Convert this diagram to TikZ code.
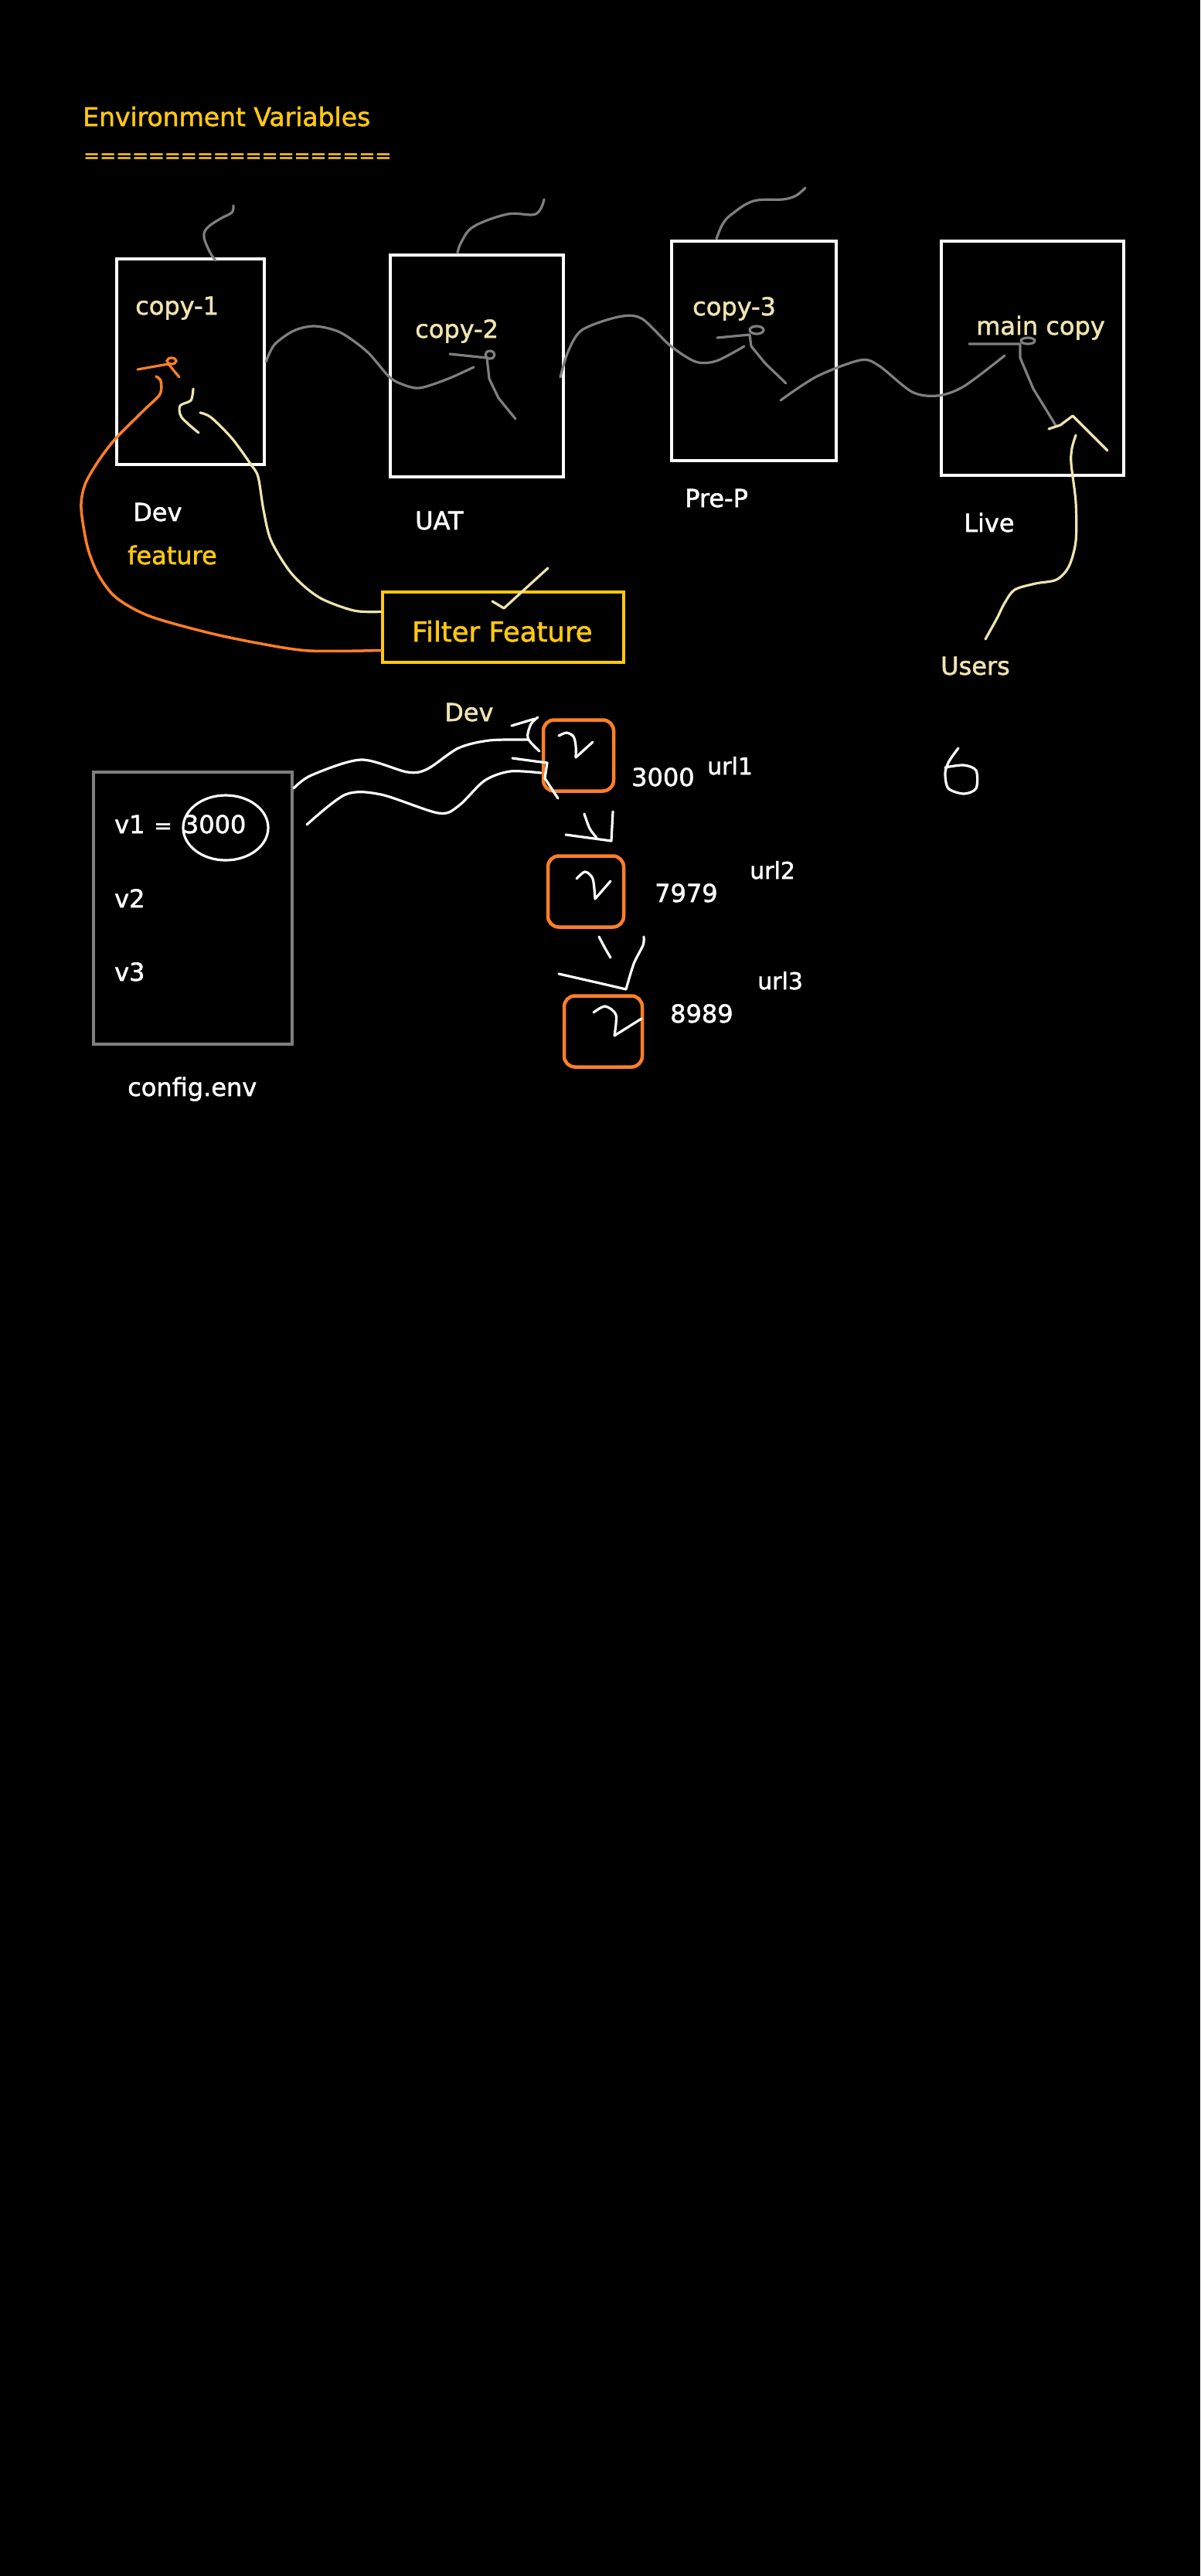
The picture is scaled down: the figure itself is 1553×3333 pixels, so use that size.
\documentclass[tikz,border=0pt]{standalone}
\usepackage{fontspec}
\setmainfont{DejaVu Sans}[FakeBold=1.6]
\definecolor{cream}{HTML}{EFE4B0}
\definecolor{gold}{HTML}{FFC90E}
\definecolor{tangerine}{HTML}{FF7F27}
\definecolor{pencil}{HTML}{7F7F7F}
\tikzset{
  envbox/.style={draw=white, line width=4.5pt, inner sep=0pt},
  urlbox/.style={draw=tangerine, line width=4.5pt, rounded corners=14pt, inner sep=0pt, minimum height=92pt},
  txt/.style={anchor=base west, inner sep=0pt, font=\fontsize{32}{38}\selectfont},
  wire/.style={pencil, line width=3.2pt, line cap=round, line join=round},
  ink/.style={white, line width=3.2pt, line cap=round, line join=round}
}

\begin{document}
\begin{tikzpicture}[x=1pt, y=-1pt]
  \fill[black] (0,0) rectangle (1553,3333);
  \useasboundingbox (0,0) rectangle (1553,3333);

  \node[txt, gold, font=\fontsize{33}{40}\selectfont] (title) at (107,163) {Environment Variables};
  \node[txt, gold, font=\fontsize{25}{30}\selectfont] (rule) at (108,210) {===================};

  \node[envbox, minimum width=191pt, minimum height=266pt] (copy1) at (246.5,468) {};
  \node[envbox, minimum width=224pt, minimum height=287pt] (copy2) at (617,473.5) {};
  \node[envbox, minimum width=213pt, minimum height=284pt] (copy3) at (975.5,454) {};
  \node[envbox, minimum width=236pt, minimum height=303pt] (main) at (1336,463.5) {};
  \node[txt, cream] (c1) at (175,407) {copy-1};
  \node[txt, cream] (c2) at (537,437) {copy-2};
  \node[txt, cream] (c3) at (896,408) {copy-3};
  \node[txt, cream] (mc) at (1263,433) {main copy};

  \node[txt, white] (dev) at (172,674) {Dev};
  \node[txt, gold] (feature) at (165,730) {feature};
  \node[txt, white] (uat) at (537,685) {UAT};
  \node[txt, white] (prep) at (886,656) {Pre-P};
  \node[txt, white] (live) at (1247,688) {Live};
  \node[txt, cream] (users) at (1217,873) {Users};
  \node[draw=gold, line width=4.5pt, minimum width=312pt, minimum height=91pt] (filter) at (651,811.5) {};
  \node[txt, gold, font=\fontsize{35.5}{42}\selectfont] (ff) at (533,830) {Filter Feature};

  \draw[wire] plot[smooth, tension=0.6] coordinates {(279,337) (272,327) (264,307) (268,295) (285,283) (300,275) (302,266)};
  \draw[wire] plot[smooth, tension=0.6] coordinates {(592,327) (597,313) (613,293) (657,277) (693,277) (704,258)};
  \draw[wire] plot[smooth, tension=0.6] coordinates {(927,309) (935,290) (947,277) (975,260) (1013,258) (1030,253) (1042,243)};

  \draw[wire] plot[smooth] coordinates {(copy1.east) (355,446) (380,428) (407,422) (440,430) (475,455) (503,487) (520,497) (543,502) (580,490) (613,475)};
  \draw[wire] (582,458) -- (630,463) -- (633,490) -- (645,515) -- (667,542);
  \draw[wire] (634,459) ellipse (6 and 5);
  \draw[wire] plot[smooth] coordinates {(725,488) (735,455) (753,427) (800,410) (830,412) (867,447) (900,468) (927,467) (963,448)};
  \draw[wire] (928,437) -- (970,433) -- (972,448) -- (990,470) -- (1017,496);
  \draw[wire] (979,427) ellipse (9 and 5);
  \draw[wire] plot[smooth] coordinates {(1010,518) (1057,487) (1113,466) (1137,473) (1180,507) (1213,512) (1247,500) (1300,460)};
  \draw[wire] (1254,445) -- (1320,445) -- (1320,463) -- (1337,503) -- (1367,552);
  \draw[wire] (1330,441) ellipse (9 and 4);

  \draw[tangerine, line width=3.5pt, line cap=round] plot[smooth] coordinates {([yshift=-30pt]filter.west) (400,842) (333,832) (267,818) (193,797) (150,773) (127,743) (113,707) (105,657) (110,627) (127,597) (150,567) (187,530) (207,510) (208,493) (202,487)};
  \draw[tangerine, line width=3.2pt, line cap=round] (178,478) -- (218,471) -- (232,488);
  \draw[tangerine, line width=3.2pt] (222,467) ellipse (6 and 4);
  \draw[cream, line width=3.2pt, line cap=round] plot[smooth] coordinates {([yshift=20pt]filter.west) (458,790) (413,773) (378,743) (351,700) (341,660) (334,617) (324,600) (300,567) (273,540) (259,534)};
  \draw[cream, line width=3.2pt, line cap=round] plot[smooth] coordinates {(250,503) (247,518) (233,525) (235,540) (257,560)};
  \draw[cream, line width=3.2pt, line cap=round, line join=round] (709,735) -- (652,787) -- (637,778);

  \draw[cream, line width=3.2pt, line cap=round] plot[smooth] coordinates {(1275,827) (1290,800) (1300,780) (1313,763) (1340,755) (1367,750) (1383,733) (1392,700) (1392,650) (1386,600) (1387,580) (1392,563)};
  \draw[cream, line width=3.2pt, line cap=round, line join=round] (1357,555) -- (1372,550) -- (1388,538) -- (1410,560) -- (1433,583);
  \draw[ink] plot[smooth] coordinates {(1240,968) (1228,985) (1223,1000) (1227,1020) (1247,1027) (1263,1020) (1263,997) (1247,990) (1223,993)};

  \node[txt, cream] (dev2) at (575,933) {Dev};
  \node[draw=pencil, line width=4pt, minimum width=257pt, minimum height=352pt, inner sep=0pt] (config) at (249.5,1175) {};
  \node[txt, white] (v1) at (148,1078) {v1\hspace{12pt}{\fontsize{28}{32}\selectfont=}\hspace{14pt}3000};
  \node[txt, white] (v2) at (148,1174) {v2};
  \node[txt, white] (v3) at (148,1269) {v3};
  \node[txt, white] (cfg) at (165,1418) {config.env};
  \draw[ink] (292,1071) ellipse (55 and 42);

  \node[urlbox, minimum width=91pt] (u1) at (748.5,977.5) {};
  \node[urlbox, minimum width=98pt] (u2) at (758,1153.5) {};
  \node[urlbox, minimum width=101pt] (u3) at (780.5,1334.5) {};
  \node[txt, white] (p1) at (817,1017) {3000};
  \node[txt, white, font=\fontsize{30}{36}\selectfont] (url1) at (915,1002) {url1};
  \node[txt, white] (p2) at (847,1167) {7979};
  \node[txt, white, font=\fontsize{30}{36}\selectfont] (url2) at (970,1137) {url2};
  \node[txt, white] (p3) at (867,1323) {8989};
  \node[txt, white, font=\fontsize{30}{36}\selectfont] (url3) at (980,1280) {url3};

  \draw[ink] plot[smooth] coordinates {(723,952) (733,948) (742,953) (745,965) (745,980)} -- (767,960);
  \draw[ink] plot[smooth] coordinates {(746,1137) (757,1128) (767,1137) (770,1163)} -- (790,1140);
  \draw[ink] plot[smooth] coordinates {(768,1310) (783,1302) (797,1313) (795,1340)} -- (830,1318);

  \draw[ink] plot[smooth] coordinates {([yshift=-23pt]config.north east) (403,1003) (467,983) (527,999) (553,995) (593,968) (633,958) (683,957)};
  \draw[ink] plot[smooth] coordinates {(397,1067) (447,1028) (493,1028) (567,1052) (593,1043) (627,1010) (660,998) (700,1000)};
  \draw[ink] (663,981) -- (685,984) -- (708,987) -- (705,1007) -- (722,1033);
  \draw[ink] (662,939) -- (692,930);
  \draw[ink] plot[smooth] coordinates {(696,928) (687,937) (683,955) (698,972)};

  \draw[ink] (793,1050) -- (791,1088) -- (732,1080);
  \draw[ink] plot[smooth] coordinates {(756,1053) (763,1072) (772,1084)};
  \draw[ink] plot[smooth] coordinates {(775,1212) (783,1227) (790,1239)};
  \draw[ink] plot[smooth] coordinates {(833,1212) (832,1223) (820,1247) (810,1280)} -- (780,1273) -- (723,1260);
\end{tikzpicture}
\end{document}
